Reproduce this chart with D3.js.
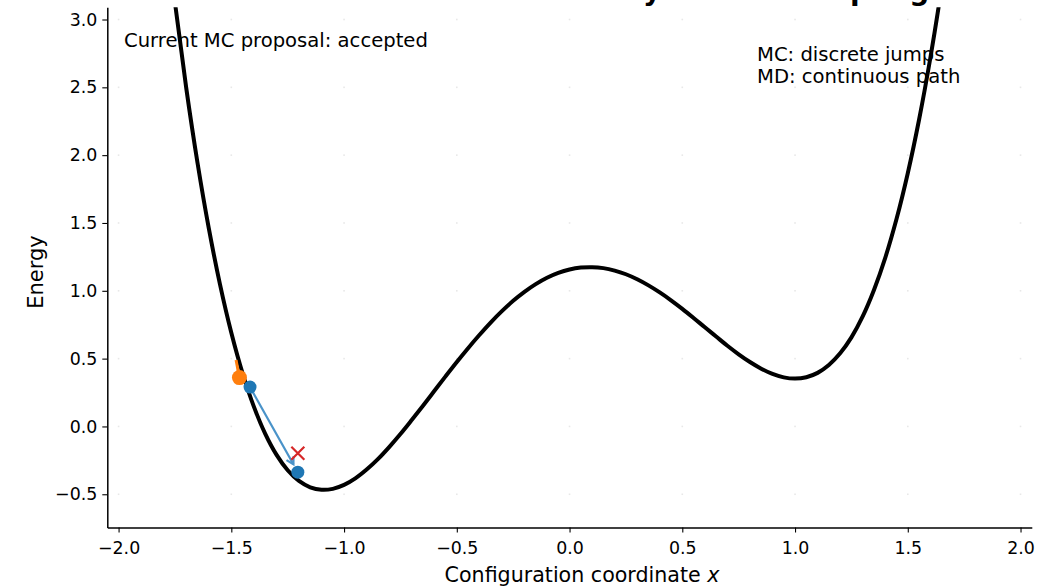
<!DOCTYPE html>
<html><head><meta charset="utf-8">
<script src="https://cdn.jsdelivr.net/npm/d3@7"></script>
<style>
body{margin:0;background:#fff;}
svg text{font-family:"DejaVu Sans",sans-serif;fill:#000;}
</style>
</head><body>
<svg id="chart" width="1061" height="586"></svg>
<script>
// ---- data ----
const potX = [-1.80,-1.75,-1.70,-1.65,-1.60,-1.55,-1.50,-1.45,-1.40,-1.35,-1.30,-1.25,-1.20,-1.15,-1.10,-1.05,-1.00,-0.95,-0.90,-0.85,-0.80,-0.75,-0.70,-0.65,-0.60,-0.55,-0.50,-0.45,-0.40,-0.35,-0.30,-0.25,-0.20,-0.15,-0.10,-0.05,0.00,0.05,0.10,0.15,0.20,0.25,0.30,0.35,0.40,0.45,0.50,0.55,0.60,0.65,0.70,0.75,0.80,0.85,0.90,0.95,1.00,1.05,1.10,1.15,1.20,1.25,1.30,1.35,1.40,1.45,1.50,1.55,1.60,1.65,1.70];
const potE = [3.834,3.125,2.496,1.944,1.462,1.046,0.691,0.392,0.146,-0.053,-0.208,-0.323,-0.402,-0.449,-0.467,-0.460,-0.431,-0.383,-0.318,-0.241,-0.152,-0.056,0.047,0.153,0.261,0.369,0.475,0.577,0.674,0.766,0.850,0.926,0.992,1.049,1.096,1.132,1.157,1.171,1.174,1.167,1.149,1.122,1.085,1.040,0.988,0.930,0.867,0.800,0.731,0.663,0.595,0.532,0.475,0.426,0.387,0.362,0.353,0.363,0.395,0.453,0.539,0.657,0.811,1.006,1.243,1.529,1.867,2.261,2.716,3.237,3.829];
const mdX = [-1.479, -1.464];
const mdE = [0.49, 0.36];
const mcX = [-1.417, -1.205];
const mcE = [0.29, -0.337];
const propX = [-1.205];
const propE = [-0.197];
const xTicks = [-2.0,-1.5,-1.0,-0.5,0.0,0.5,1.0,1.5,2.0];
const yTicks = [-0.5,0.0,0.5,1.0,1.5,2.0,2.5,3.0];
const titleText = "Monte Carlo vs Molecular Dynamics Sampling";
const statusText = "Current MC proposal: accepted";
const noteLines = ["MC: discrete jumps","MD: continuous path"];
const xLabel = "Configuration coordinate ";
const xLabelVar = "x";
const yLabel = "Energy";

// ---- layout ----
const svg = d3.select("#chart");
const L = 107.3, R = 1031.8, T = 7.3, B = 527.5;
const x = d3.scaleLinear().domain([-2.05, 2.05]).range([L, R]);
const y = d3.scaleLinear().domain([-0.745, 3.09]).range([B, T]);

svg.append("rect").attr("width",1061).attr("height",586).attr("fill","#fff");

// title (cut at the top edge, as in the reference)
svg.append("text").attr("x",(L+R)/2).attr("y",-0.5).attr("text-anchor","middle")
  .style("font-size","28px").style("font-weight","bold").text(titleText);

// faint grid dots
const gridG = svg.append("g");
xTicks.forEach(tx => yTicks.forEach(ty => {
  gridG.append("rect").attr("x", x(tx)-0.8).attr("y", y(ty)-0.8)
    .attr("width",1.6).attr("height",1.6).attr("fill","#e8e8e8");
}));

svg.append("defs").append("clipPath").attr("id","clip")
  .append("rect").attr("x",L).attr("y",T).attr("width",R-L).attr("height",B-T);

const plot = svg.append("g").attr("clip-path","url(#clip)");

const pot = potX.map((v,i)=>[v,potE[i]]);
plot.append("path").datum(pot)
  .attr("d", d3.line().x(d=>x(d[0])).y(d=>y(d[1])).curve(d3.curveCatmullRom.alpha(0.5)))
  .attr("fill","none").attr("stroke","#000").attr("stroke-width",4).attr("stroke-linejoin","round");

// MD trail
const md = mdX.map((v,i)=>[v,mdE[i]]);
plot.append("path").datum(md)
  .attr("d", d3.line().x(d=>x(d[0])).y(d=>y(d[1])))
  .attr("fill","none").attr("stroke","#ff7f0e").attr("stroke-width",3);

// MC jump arrow
const x0 = x(mcX[0]), y0 = y(mcE[0]), x1 = x(mcX[1]), y1 = y(mcE[1]);
const dx = x1-x0, dy = y1-y0, len = Math.hypot(dx,dy), ux = dx/len, uy = dy/len;
const tipX = x1 - ux*9, tipY = y1 - uy*9;
const arrowCol = "#4a93c9";
plot.append("line").attr("x1",x0).attr("y1",y0).attr("x2",tipX).attr("y2",tipY)
  .attr("stroke",arrowCol).attr("stroke-width",2.2);
const hl = 7, hw = 4;
plot.append("path")
  .attr("d", `M${tipX-ux*hl-uy*hw},${tipY-uy*hl+ux*hw}L${tipX},${tipY}L${tipX-ux*hl+uy*hw},${tipY-uy*hl-ux*hw}`)
  .attr("fill","none").attr("stroke",arrowCol).attr("stroke-width",2.2);

// proposal marker
propX.forEach((v,i)=>{
  const cx = x(v), cy = y(propE[i]), s = 6.5;
  plot.append("path").attr("d",`M${cx-s},${cy-s}L${cx+s},${cy+s}M${cx-s},${cy+s}L${cx+s},${cy-s}`)
    .attr("stroke","#d62728").attr("stroke-width",2.2);
});

// MD current point
plot.append("circle").attr("cx",x(mdX[mdX.length-1])).attr("cy",y(mdE[mdE.length-1]))
  .attr("r",7.5).attr("fill","#ff7f0e");
// MC points
plot.selectAll(".mc").data(mcX.map((v,i)=>[v,mcE[i]])).enter().append("circle")
  .attr("cx",d=>x(d[0])).attr("cy",d=>y(d[1])).attr("r",6.5).attr("fill","#1f77b4");

// axes
const fmt = d3.format(".1f");
const ax = svg.append("g").attr("transform",`translate(0,${B})`)
  .call(d3.axisBottom(x).tickValues(xTicks).tickFormat(fmt).tickSize(5).tickSizeOuter(0));
ax.selectAll("text").attr("y",26).attr("dy",0);
const ay = svg.append("g").attr("transform",`translate(${L},0)`)
  .call(d3.axisLeft(y).tickValues(yTicks).tickFormat(fmt).tickSize(5).tickSizeOuter(0).tickPadding(5));
[ax, ay].forEach(g => {
  g.select(".domain").attr("stroke","#000").attr("stroke-width",1.5);
  g.selectAll(".tick line").attr("stroke","#000").attr("stroke-width",1.1);
  g.selectAll("text").style("font-size","17.4px").style("font-family","DejaVu Sans, sans-serif").attr("fill","#1a1a1a");
});

// axis labels
const xl = svg.append("text").attr("x",582).attr("y",582).attr("text-anchor","middle")
  .style("font-size","20.6px").attr("fill","#1a1a1a");
xl.append("tspan").text(xLabel);
xl.append("tspan").style("font-style","italic").text(xLabelVar);
svg.append("text").attr("transform","translate(43,272) rotate(-90)").attr("text-anchor","middle")
  .style("font-size","21px").attr("fill","#1a1a1a").text(yLabel);

// annotations
svg.append("text").attr("x",124).attr("y",46.7).style("font-size","19.6px").attr("fill","#1a1a1a").text(statusText);
noteLines.forEach((t,i)=>{
  svg.append("text").attr("x",757).attr("y",60.7+i*22.7).style("font-size","19.6px").attr("fill","#1a1a1a").text(t);
});
</script>
</body></html>
